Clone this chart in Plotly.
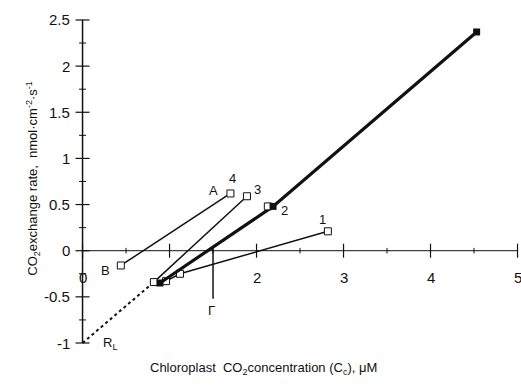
import plotly.graph_objects as go

# ---- data ----
s1_x = [0.96, 1.12, 2.82]
s1_y = [-0.33, -0.25, 0.21]
s2_x = [0.89, 2.19, 4.53]
s2_y = [-0.35, 0.48, 2.37]
s2_extra_x = [2.13]
s2_extra_y = [0.48]
s3_x = [0.82, 1.89]
s3_y = [-0.34, 0.59]
s4_x = [0.44, 1.70]
s4_y = [-0.16, 0.62]
rl_x = [0.0, 0.82]
rl_y = [-1.0, -0.34]
gamma_x = 1.5
gamma_y = [0.02, -0.52]

x_major = [0, 1, 2, 3, 4, 5]
x_labels = ["0", "", "2", "3", "4", "5"]
x_minor = [0.5, 1.5, 2.5, 3.5, 4.5]
y_major = [-1, -0.5, 0, 0.5, 1, 1.5, 2, 2.5]
y_labels = ["-1", "-0.5", "0", "0.5", "1", "1.5", "2", "2.5"]
y_minor = [-0.75, -0.25, 0.25, 0.75, 1.25, 1.75, 2.25]

FONT = "Liberation Sans, Arial, sans-serif"
BLACK = "#111111"

fig = go.Figure()

# axes through origin
fig.add_trace(go.Scatter(x=[0, 5], y=[0, 0], mode="lines",
                         line=dict(color=BLACK, width=1), hoverinfo="skip"))
fig.add_trace(go.Scatter(x=[0, 0], y=[-1, 2.5], mode="lines",
                         line=dict(color=BLACK, width=1.5), hoverinfo="skip"))
# ticks
fig.add_trace(go.Scatter(x=x_major, y=[0] * len(x_major), mode="markers",
                         marker=dict(symbol="line-ns", size=10, line=dict(color=BLACK, width=1.2)),
                         hoverinfo="skip"))
fig.add_trace(go.Scatter(x=x_minor, y=[0] * len(x_minor), mode="markers",
                         marker=dict(symbol="line-ns", size=4, line=dict(color=BLACK, width=1)),
                         hoverinfo="skip"))
fig.add_trace(go.Scatter(x=[0] * len(y_major), y=y_major, mode="markers",
                         marker=dict(symbol="line-ew", size=10, line=dict(color=BLACK, width=1.2)),
                         hoverinfo="skip"))
fig.add_trace(go.Scatter(x=[0] * len(y_minor), y=y_minor, mode="markers",
                         marker=dict(symbol="line-ew", size=5, line=dict(color=BLACK, width=1)),
                         hoverinfo="skip"))

# dotted R_L extrapolation
fig.add_trace(go.Scatter(x=rl_x, y=rl_y, mode="lines",
                         line=dict(color=BLACK, width=2, dash="dot"), hoverinfo="skip"))
# Gamma marker line
fig.add_trace(go.Scatter(x=[gamma_x, gamma_x], y=gamma_y, mode="lines",
                         line=dict(color=BLACK, width=1.5), hoverinfo="skip"))

# series 1, 3, 4
for xs, ys in [(s1_x, s1_y), (s3_x, s3_y), (s4_x, s4_y)]:
    fig.add_trace(go.Scatter(x=xs, y=ys, mode="lines+markers",
                             line=dict(color=BLACK, width=1.5),
                             marker=dict(symbol="square", size=7, color="white",
                                         line=dict(color=BLACK, width=1))))
# series 2 (thick, filled)
fig.add_trace(go.Scatter(x=s2_x, y=s2_y, mode="lines",
                         line=dict(color=BLACK, width=3.2)))
fig.add_trace(go.Scatter(x=s2_extra_x, y=s2_extra_y, mode="markers",
                         marker=dict(symbol="square", size=7, color="white",
                                     line=dict(color=BLACK, width=1))))
fig.add_trace(go.Scatter(x=s2_x, y=s2_y, mode="markers",
                         marker=dict(symbol="square", size=7, color=BLACK)))

ann = []
for v, t in zip(x_major, x_labels):
    if t:
        ann.append(dict(x=v, y=0, xref="x", yref="y", text=t, showarrow=False,
                        yshift=-27, font=dict(size=15, color=BLACK, family=FONT)))
for v, t in zip(y_major, y_labels):
    ann.append(dict(x=0, y=v, xref="x", yref="y", text=t, showarrow=False,
                    xanchor="right", xshift=-11, font=dict(size=15, color=BLACK, family=FONT)))

lab = dict(showarrow=False, font=dict(size=13, color=BLACK, family=FONT), xref="x", yref="y")
ann += [
    dict(x=s4_x[1], y=s4_y[1], text="4", xshift=2, yshift=15, **lab),
    dict(x=s4_x[1], y=s4_y[1], text="A", xshift=-17, yshift=3, **lab),
    dict(x=s4_x[0], y=s4_y[0], text="B", xshift=-15, yshift=-5, **lab),
    dict(x=s3_x[1], y=s3_y[1], text="3", xshift=11, yshift=7, **lab),
    dict(x=s2_x[1], y=s2_y[1], text="2", xshift=11, yshift=-4, **lab),
    dict(x=s1_x[2], y=s1_y[2], text="1", xshift=-5, yshift=12, **lab),
    dict(x=gamma_x, y=gamma_y[1], text="Γ", xshift=-2, yshift=-12, **lab),
    dict(x=rl_x[0], y=rl_y[0], text="R<sub>L</sub>", xshift=27, yshift=0, **lab),
]
ann.append(dict(x=-0.038, y=0.513, xref="paper", yref="paper", textangle=-90,
                text="CO<sub>2</sub>exchange rate,  nmol·cm<sup>-2</sup>·s<sup>-1</sup>",
                showarrow=False, font=dict(size=13, color=BLACK, family=FONT)))
ann.append(dict(x=0.465, y=-0.07, xref="paper", yref="paper",
                text="Chloroplast  CO<sub>2</sub>concentration (C<sub>c</sub>), μM",
                showarrow=False, font=dict(size=13, color=BLACK, family=FONT)))

fig.update_layout(
    width=521, height=391,
    margin=dict(l=40, r=0, t=10, b=36),
    paper_bgcolor="white", plot_bgcolor="white",
    showlegend=False,
    hovermode=False,
    xaxis=dict(range=[-0.489, 5.04], visible=False, fixedrange=True),
    yaxis=dict(range=[-1.13, 2.608], visible=False, fixedrange=True),
    annotations=ann,
)
fig.write_html("out.html", config={"displayModeBar": False, "staticPlot": True},
               post_script="document.body.style.margin='0';document.body.style.overflow='hidden';")
